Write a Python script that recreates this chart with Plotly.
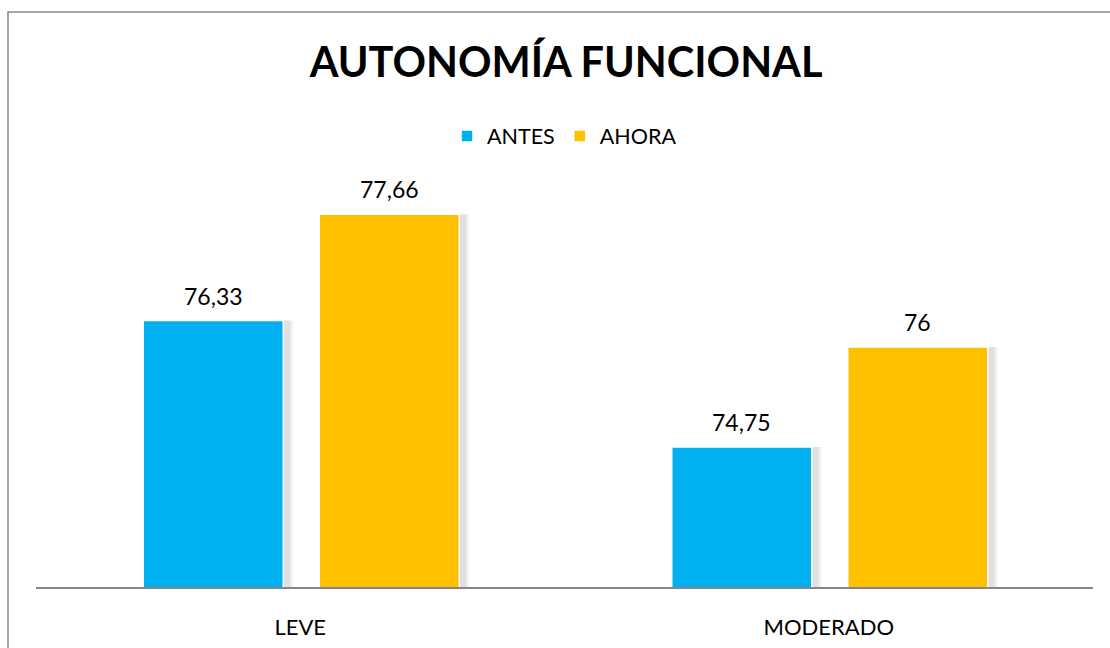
import plotly.graph_objects as go

categories = ["LEVE", "MODERADO"]
antes = [76.33, 74.75]
ahora = [77.66, 76.00]

series = [("ANTES", antes, "#00B0F0"), ("AHORA", ahora, "#FFC000")]

# geometry in category units (one category = 1.0)
PX = 1 / 528.5
bar_w = 140 * PX
offsets = {"ANTES": -157 * PX, "AHORA": 19 * PX}


def fmt(v):
    return f"{v:g}".replace(".", ",")


fig = go.Figure()

# soft drop shadow behind each bar
for name, vals, _ in series:
    for dx, extra, alpha in [(1, 10, 0.025), (2, 8, 0.04), (4, 4, 0.06)]:
        fig.add_trace(go.Bar(
            x=categories, y=vals, base=0,
            width=[bar_w + extra * PX] * 2,
            offset=offsets[name] + dx * PX - 1 * PX,
            marker=dict(color=f"rgba(0,0,0,{alpha})", line=dict(width=0)),
            showlegend=False, hoverinfo="skip",
        ))

annotations = []
for name, vals, color in series:
    fig.add_trace(go.Bar(
        name=name, x=categories, y=vals, base=0,
        width=[bar_w] * 2, offset=offsets[name],
        marker=dict(color=color, line=dict(color="white", width=1.5)),
        hoverinfo="x+y",
    ))
    # value labels centred over each bar
    for cat_idx, v in enumerate(vals):
        annotations.append(dict(
            x=cat_idx + offsets[name] + bar_w / 2, y=v,
            xref="x", yref="y", text=fmt(v), showarrow=False,
            yanchor="middle", yshift=25,
            font=dict(family="Lato", size=23, color="#000000"),
        ))

fig.update_layout(
    width=1110, height=648,
    barmode="overlay",
    paper_bgcolor="white", plot_bgcolor="white",
    margin=dict(l=36, r=17, t=187, b=61),
    font=dict(family="Lato", color="#000000"),
    title=dict(
        text="<b>AUTONOMÍA FUNCIONAL</b>",
        x=0.51, xanchor="center", y=0.903, yanchor="middle",
        font=dict(family="Lato", size=41.5, color="#000000"),
    ),
    legend=dict(
        orientation="h", x=0.5, xanchor="center", y=1.1275, yanchor="middle",
        font=dict(family="Lato", size=21.5, color="#000000"),
        traceorder="normal", itemwidth=30,
    ),
    xaxis=dict(
        showline=True, linecolor="#868686", linewidth=2,
        showgrid=False, ticks="", ticklabelstandoff=20, automargin=False,
        tickfont=dict(family="Lato", size=22, color="#000000"),
        fixedrange=True,
    ),
    yaxis=dict(range=[73, 78], visible=False, showgrid=False, fixedrange=True),
    annotations=annotations,
    shapes=[dict(
        type="rect", xref="paper", yref="paper",
        x0=-0.0265, x1=1.2, y0=-0.3, y1=1.4375,
        line=dict(color="#898989", width=1.5), fillcolor="rgba(0,0,0,0)",
        layer="above",
    )],
)

fig.write_html("out.html")
